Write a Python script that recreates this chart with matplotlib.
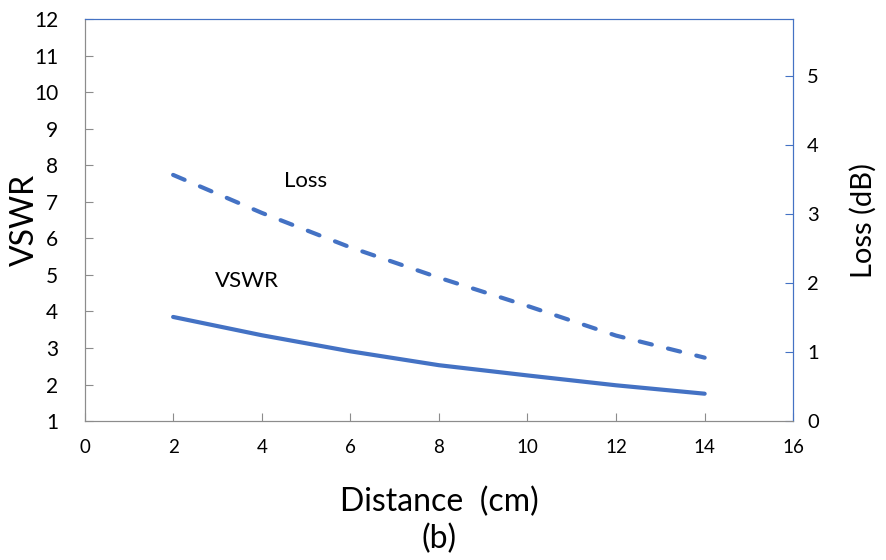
import matplotlib
matplotlib.use("Agg")
from matplotlib import pyplot as plt

distance = [2, 4, 6, 8, 10, 12, 14]
vswr = [3.85, 3.35, 2.91, 2.53, 2.25, 1.98, 1.75]
loss = [3.57, 3.02, 2.52, 2.08, 1.67, 1.24, 0.92]

blue = "#4472C4"
grey = "#8C8C8C"

plt.rcParams['font.family'] = ['Lato', 'DejaVu Sans']

fig = plt.figure(figsize=(8.87, 5.6), dpi=100)
ax = fig.add_axes([0.0953, 0.248, 0.799, 0.718])
ax2 = ax.twinx()

ax.plot(distance, vswr, c=blue, lw=3, solid_capstyle="round")
ax2.plot(distance, loss, c=blue, lw=3, dashes=(3, 4), dash_capstyle="round")

ax.set_xlim(0, 16)
ax.set_ylim(1, 12)
ax2.set_ylim(0, 5.83)
ax.set_xticks(range(0, 17, 2))
ax.set_yticks(range(1, 13))
ax2.set_yticks(range(0, 6))

# inline series labels
ax.text(4.98, 7.57, "Loss", fontsize=16, ha="center", va="center")
ax.text(3.66, 4.83, "VSWR", fontsize=16, ha="center", va="center")

ax.set_ylabel("VSWR", fontsize=23, labelpad=-4)
ax2.set_ylabel("Loss (dB)", fontsize=21, labelpad=22)
ax.set_xlabel("Distance  (cm)\n(b)", fontsize=23, labelpad=22, linespacing=1.25)

for side in ["left", "bottom"]:
    ax.spines[side].set_color(grey)
    ax2.spines[side].set_color(grey)
for side in ["right", "top"]:
    ax.spines[side].set_color(blue)
    ax2.spines[side].set_color(blue)

ax.tick_params(axis="x", direction="in", colors=grey, labelcolor="black", labelsize=13.5, pad=13, length=6)
ax.tick_params(axis="y", direction="in", colors=grey, labelcolor="black", labelsize=15, pad=19, length=6)
ax2.tick_params(axis="y", direction="in", colors=blue, labelcolor="black", labelsize=14.5, pad=10, length=6)

fig.savefig("out.png", dpi=100)
